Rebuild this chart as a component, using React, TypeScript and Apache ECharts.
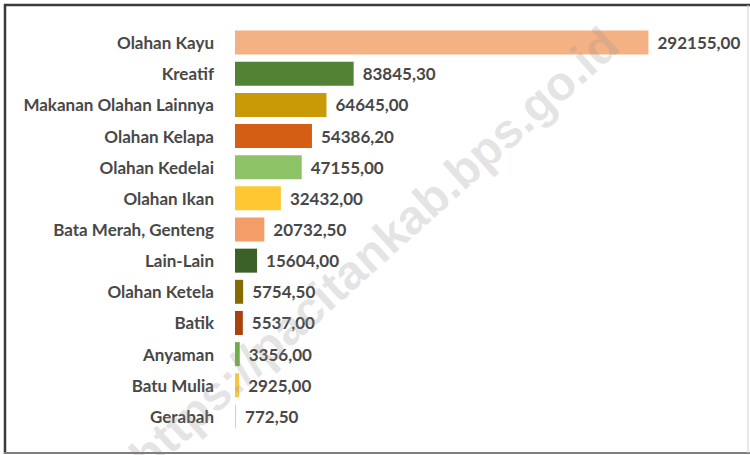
import React, { useEffect, useRef } from "react";
import * as echarts from "echarts";

const categories = [
  "Olahan Kayu",
  "Kreatif",
  "Makanan Olahan Lainnya",
  "Olahan Kelapa",
  "Olahan Kedelai",
  "Olahan Ikan",
  "Bata Merah, Genteng",
  "Lain-Lain",
  "Olahan Ketela",
  "Batik",
  "Anyaman",
  "Batu Mulia",
  "Gerabah",
];

const values = [
  292155.0, 83845.3, 64645.0, 54386.2, 47155.0, 32432.0, 20732.5, 15604.0,
  5754.5, 5537.0, 3356.0, 2925.0, 772.5,
];

const barColors = [
  "#F4B183",
  "#548235",
  "#C99A06",
  "#D35E14",
  "#8DC366",
  "#FFC832",
  "#F39E68",
  "#3B6128",
  "#886A04",
  "#A8420F",
  "#70AD47",
  "#F8C444",
  "#BDD7EE",
];

const watermark = "https://pacitankab.bps.go.id";

const fmt = (v: number) => v.toFixed(2).replace(".", ",");

export default function App() {
  const ref = useRef<HTMLDivElement>(null);
  useEffect(() => {
    if (!ref.current) return;
    const chart = echarts.init(ref.current, undefined, { renderer: "svg" });
    const font = "Lato, 'Open Sans', sans-serif";
    chart.setOption({
      animation: false,
      backgroundColor: "#ffffff",
      grid: { left: 235, right: 48, top: 27, bottom: 23, containLabel: false },
      xAxis: {
        type: "value",
        min: 0,
        max: 330000,
        show: false,
      },
      yAxis: {
        type: "category",
        inverse: true,
        data: categories,
        axisLine: { show: false },
        axisTick: { show: false },
        splitLine: { show: false },
        axisLabel: {
          margin: 21,
          color: "#484848",
          fontFamily: font,
          fontWeight: "bold",
          fontSize: 17,
        },
      },
      series: [
        {
          type: "bar",
          barWidth: 24,
          data: values.map((v, i) => ({
            value: v,
            itemStyle: { color: barColors[i] },
          })),
          label: {
            show: true,
            position: "right",
            distance: 9,
            color: "#484848",
            fontFamily: font,
            fontWeight: "bold",
            fontSize: 17,
            formatter: (p: any) => fmt(p.value),
          },
        },
      ],
      graphic: [
        {
          type: "text",
          x: 374,
          y: 250,
          rotation: (42 * Math.PI) / 180,
          z: 100,
          style: {
            text: watermark,
            fill: "rgba(150,150,150,0.26)",
            font: "bold 48px 'Liberation Sans', Arial, sans-serif",
            align: "center",
            verticalAlign: "middle",
          },
        },
        {
          type: "line",
          z: 101,
          shape: { x1: 4, y1: 5, x2: 750, y2: 5 },
          style: { stroke: "#3a3a3a", lineWidth: 2.5 },
        },
        {
          type: "line",
          z: 101,
          shape: { x1: 5, y1: 4, x2: 5, y2: 454 },
          style: { stroke: "#3a3a3a", lineWidth: 2.5 },
        },
        {
          type: "line",
          z: 101,
          shape: { x1: 4, y1: 453, x2: 750, y2: 453 },
          style: { stroke: "#7f7f7f", lineWidth: 2 },
        },
        {
          type: "line",
          z: 101,
          shape: { x1: 748, y1: 5, x2: 748, y2: 453 },
          style: { stroke: "#d0d0d0", lineWidth: 1 },
        },
      ],
    });
    return () => chart.dispose();
  }, []);
  return (
    <div
      ref={ref}
      style={{ position: "fixed", left: 0, top: 0, width: 750, height: 455 }}
    />
  );
}
